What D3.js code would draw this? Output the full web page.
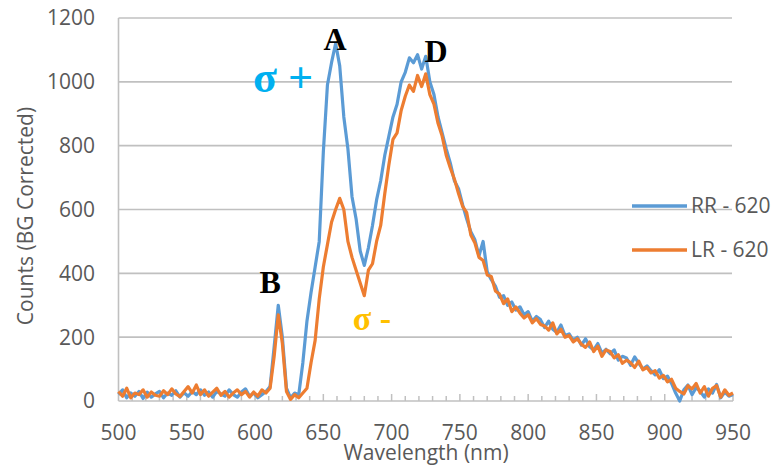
<!DOCTYPE html>
<html>
<head>
<meta charset="utf-8">
<script src="https://cdn.jsdelivr.net/npm/d3@7"></script>
<style>
  html, body { margin: 0; padding: 0; background: #fff; }
  svg { display: block; }
</style>
</head>
<body>
<svg id="chart" width="775" height="468"></svg>
<script>
// Emission spectra, background corrected, sampled every 3 nm
const wavelengths = d3.range(500, 951, 3);

const rrCounts = [
  20, 35, 10, 25, 15, 30, 8, 28, 12, 22,
  30, 10, 25, 18, 32, 12, 26, 15, 30, 20,
  35, 18, 28, 12, 30, 22, 15, 35, 20, 12,
  28, 38, 15, 25, 10, 20, 30, 45, 170, 300,
  200, 40, 10, 25, 20, 120, 250, 340, 420, 500,
  780, 990, 1060, 1120, 1050, 890, 790, 640, 570, 470,
  425, 480, 550, 630, 690, 770, 830, 890, 930, 1000,
  1030, 1075, 1060, 1085, 1040, 1080, 1000, 960, 890, 840,
  790, 745, 690, 665, 615, 570, 530, 505, 455, 500,
  405, 380, 360, 325, 330, 300, 310, 285, 295, 270,
  280, 250, 265, 255, 230, 250, 225, 215, 238, 205,
  210, 190, 200, 175, 195, 170, 160, 180, 150, 162,
  148, 160, 128, 140, 135, 112, 138, 118, 100, 110,
  95, 82, 98, 70, 78, 55, 25, 0, 35, 50,
  20, 42, 30, 12, 38, 25, 52, 10, 28, 15,
  20
];

const lrCounts = [
  30, 15, 40, 10, 25, 20, 35, 12, 28, 18,
  15, 32, 20, 38, 22, 14, 30, 45, 25, 50,
  20, 35, 15, 28, 40, 18, 30, 12, 25, 35,
  20, 30, 12, 28, 15, 35, 25, 40, 140, 270,
  180, 30, 5, 20, 10, 25, 40, 120, 190, 320,
  420, 490, 560, 600, 635, 600, 500, 450, 410, 370,
  330, 410, 430, 500, 550, 650, 740, 820, 840, 910,
  955, 990, 970, 1020, 985, 1025, 960, 930, 870, 830,
  770, 730, 695, 650, 610, 590, 520, 495, 450, 440,
  395, 390, 345, 335, 305, 320, 280, 295, 275, 260,
  270, 245, 258, 240, 235, 222, 245, 210, 225, 200,
  205, 185, 195, 178, 168, 185, 155, 172, 140, 160,
  155, 135, 145, 118, 128, 120, 105, 125, 98, 105,
  88, 95, 72, 80, 60, 68, 40, 30, 22, 48,
  38, 55, 25, 45, 15, 40, 48, 12, 35, 18,
  25
];

const seriesNames = ["RR - 620", "LR - 620"];
const seriesColors = ["#5b9bd5", "#ed7d31"];

const xTickValues = [500, 550, 600, 650, 700, 750, 800, 850, 900, 950];
const yTickValues = [0, 200, 400, 600, 800, 1000, 1200];

const svg = d3.select("#chart");
const gridColor = "#c0c0c0";
const textColor = "#595959";
const sansFont = "'Open Sans', sans-serif";
const serifFont = "'Liberation Serif', 'Times New Roman', serif";

const x = d3.scaleLinear().domain([500, 950]).range([118.5, 733]);
const y = d3.scaleLinear().domain([0, 1200]).range([401, 18]);

// horizontal gridlines
svg.append("g")
  .selectAll("line")
  .data(yTickValues.filter(d => d > 0))
  .join("line")
  .attr("x1", x(500)).attr("x2", x(950) - 1)
  .attr("y1", d => y(d)).attr("y2", d => y(d))
  .attr("stroke", gridColor).attr("stroke-width", 1.6);

// vertical axis line
svg.append("line")
  .attr("x1", x(500)).attr("x2", x(500))
  .attr("y1", y(1200)).attr("y2", y(0))
  .attr("stroke", gridColor).attr("stroke-width", 1.6);

// y tick labels
svg.append("g")
  .selectAll("text")
  .data(yTickValues)
  .join("text")
  .attr("x", 95)
  .attr("y", d => y(d))
  .attr("dy", "0.35em")
  .attr("text-anchor", "end")
  .style("font-family", sansFont)
  .style("font-size", "21px")
  .attr("fill", textColor)
  .text(d => d);

// x axis: ticks every 10 nm pointing into the plot, labels every 50 nm
const xAxis = svg.append("g").attr("transform", `translate(0,${y(0)})`);
xAxis.append("line")
  .attr("x1", x(500)).attr("x2", x(950))
  .attr("stroke", gridColor).attr("stroke-width", 1.6);
xAxis.selectAll("line.tick")
  .data(d3.range(510, 951, 10))
  .join("line")
  .attr("class", "tick")
  .attr("x1", d => x(d)).attr("x2", d => x(d))
  .attr("y1", 0).attr("y2", d => (d % 50 === 0 ? -7 : -5))
  .attr("stroke", gridColor).attr("stroke-width", 1.5);
xAxis.selectAll("text")
  .data(xTickValues)
  .join("text")
  .attr("x", d => x(d))
  .attr("y", 39)
  .attr("text-anchor", "middle")
  .style("font-family", sansFont)
  .style("font-size", "21px")
  .attr("fill", textColor)
  .text(d => d);

// axis titles
svg.append("text")
  .attr("x", 426)
  .attr("y", 460)
  .attr("text-anchor", "middle")
  .style("font-family", sansFont)
  .style("font-size", "21px")
  .attr("fill", textColor)
  .text("Wavelength (nm)");

svg.append("text")
  .attr("transform", "translate(33,216) rotate(-90)")
  .attr("text-anchor", "middle")
  .style("font-family", sansFont)
  .style("font-size", "21px")
  .attr("fill", textColor)
  .text("Counts (BG Corrected)");

// spectra
const line = d3.line()
  .x((d, i) => x(wavelengths[i]))
  .y(d => y(d));

[rrCounts, lrCounts].forEach((vals, k) => {
  svg.append("path")
    .datum(vals)
    .attr("fill", "none")
    .attr("stroke", seriesColors[k])
    .attr("stroke-width", 3.2)
    .attr("stroke-linejoin", "round")
    .attr("d", line);
});

// legend
const legend = svg.append("g");
seriesNames.forEach((name, k) => {
  const ly = 206 + k * 44;
  legend.append("line")
    .attr("x1", 632).attr("x2", 687)
    .attr("y1", ly).attr("y2", ly)
    .attr("stroke", seriesColors[k])
    .attr("stroke-width", 3.5);
  legend.append("text")
    .attr("x", 691).attr("y", ly)
    .attr("dy", "0.35em")
    .style("font-family", sansFont)
    .style("font-size", "21px")
    .attr("fill", textColor)
    .text(name);
});

// peak annotations
const peakLabels = [
  { text: "A", w: 658.5, c: 1100 },
  { text: "D", w: 732.5, c: 1063 },
  { text: "B", w: 611, c: 339 }
];
svg.append("g")
  .selectAll("text")
  .data(peakLabels)
  .join("text")
  .attr("x", d => x(d.w))
  .attr("y", d => y(d.c))
  .attr("text-anchor", "middle")
  .style("font-family", serifFont)
  .style("font-weight", "bold")
  .style("font-size", "32px")
  .attr("fill", "#000")
  .text(d => d.text);

// polarisation labels
svg.append("text")
  .attr("x", x(598.5)).attr("y", y(969))
  .style("font-family", serifFont)
  .style("font-weight", "bold")
  .style("font-size", "44px")
  .attr("fill", "#00b0f0")
  .text("σ +");

svg.append("text")
  .attr("x", x(671.6)).attr("y", y(222))
  .style("font-family", serifFont)
  .style("font-weight", "bold")
  .style("font-size", "34px")
  .attr("fill", "#ffc000")
  .text("σ -");
</script>
</body>
</html>
